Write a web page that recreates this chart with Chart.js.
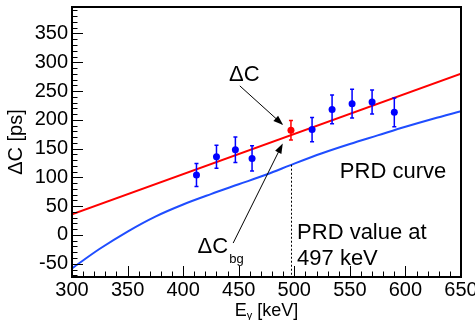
<!DOCTYPE html>
<html>
<head>
<meta charset="utf-8">
<script src="https://cdn.jsdelivr.net/npm/chart.js"></script>
<style>
  html, body { margin: 0; padding: 0; background: #fff; }
</style>
</head>
<body>
<canvas id="chart" width="475" height="320"></canvas>
<script>
// Measured points (blue)
const energies = [412, 430, 447, 462, 516, 534, 552, 570, 590];
const deltaC = [104, 136, 148, 133, 183, 218, 228, 231, 213];
const deltaCErr = [20, 20, 22, 22, 21, 25, 25, 21, 25];

// Point at 497 keV (red)
const redEnergy = [497];
const redDeltaC = [182];
const redErr = [17];

// Linear fit (red line)
const fitEnergy = [300, 650];
const fitDeltaC = [36, 280];

// PRD curve (blue line)
const prdEnergy = [300, 325, 350, 375, 400, 425, 450, 475, 500, 525, 550, 575, 600, 625, 650];
const prdDeltaC = [-58, -24, 6, 32, 53, 71, 88, 105, 124, 142, 158, 173, 188, 202, 215];
const prdAt = { x: 497, y: 122 };

// Axis ticks
const xTicks = [300, 350, 400, 450, 500, 550, 600, 650];
const yTicks = [-50, 0, 50, 100, 150, 200, 250, 300, 350];

const FONT = "'Liberation Sans', Arial, Helvetica, sans-serif";
const BLUE_PTS = '#0000ff';
const RED = '#ff0000';
const PRD_BLUE = '#1f4dff';

Chart.defaults.font.family = FONT;
Chart.defaults.color = '#000';

function pts(xs, ys) {
    return xs.map((x, i) => ({ x: x, y: ys[i] }));
}

function arrow(ctx, x1, y1, x2, y2) {
    const a = Math.atan2(y2 - y1, x2 - x1);
    const len = 10, half = 3.5;
    ctx.beginPath();
    ctx.moveTo(x1, y1);
    ctx.lineTo(x2 - Math.cos(a) * len * 0.8, y2 - Math.sin(a) * len * 0.8);
    ctx.stroke();
    ctx.beginPath();
    ctx.moveTo(x2, y2);
    ctx.lineTo(x2 - len * Math.cos(a) + half * Math.sin(a), y2 - len * Math.sin(a) - half * Math.cos(a));
    ctx.lineTo(x2 - len * Math.cos(a) - half * Math.sin(a), y2 - len * Math.sin(a) + half * Math.cos(a));
    ctx.closePath();
    ctx.fill();
}

const decorations = {
    id: 'decorations',
    afterDatasetsDraw(chart) {
        const ctx = chart.ctx;
        const xs = chart.scales.x, ys = chart.scales.y;
        const bars = (E, C, err, color) => {
            ctx.save();
            ctx.strokeStyle = color;
            ctx.lineWidth = 1.5;
            E.forEach((e, i) => {
                const px = xs.getPixelForValue(e);
                const t = ys.getPixelForValue(C[i] + err[i]);
                const b = ys.getPixelForValue(C[i] - err[i]);
                ctx.beginPath();
                ctx.moveTo(px, t); ctx.lineTo(px, b);
                ctx.moveTo(px - 2, t); ctx.lineTo(px + 2, t);
                ctx.moveTo(px - 2, b); ctx.lineTo(px + 2, b);
                ctx.stroke();
            });
            ctx.restore();
        };
        bars(energies, deltaC, deltaCErr, BLUE_PTS);
        bars(redEnergy, redDeltaC, redErr, RED);
    },
    afterDraw(chart) {
        const ctx = chart.ctx;
        const xs = chart.scales.x, ys = chart.scales.y;
        const a = chart.chartArea;
        const X = v => xs.getPixelForValue(v);
        const Y = v => ys.getPixelForValue(v);

        ctx.save();
        // dotted line at 497 keV
        ctx.strokeStyle = '#000';
        ctx.lineWidth = 1;
        ctx.setLineDash([2, 2]);
        ctx.beginPath();
        ctx.moveTo(Math.round(X(prdAt.x)) + 0.5, Y(prdAt.y));
        ctx.lineTo(Math.round(X(prdAt.x)) + 0.5, a.bottom);
        ctx.stroke();
        ctx.setLineDash([]);

        // ticks (inward)
        ctx.lineWidth = 1;
        for (let v = 300; v <= 650; v += 10) {
            const px = Math.round(X(v)) + 0.5;
            const l = (v % 50 === 0) ? 11 : 5.5;
            ctx.beginPath();
            ctx.moveTo(px, a.bottom);
            ctx.lineTo(px, a.bottom - l);
            ctx.stroke();
        }
        for (let v = -70; v <= 390; v += 10) {
            const py = Math.round(Y(v)) + 0.5;
            const l = (v % 50 === 0) ? 11 : 5.5;
            ctx.beginPath();
            ctx.moveTo(a.left, py);
            ctx.lineTo(a.left + l, py);
            ctx.stroke();
        }

        // frame
        ctx.lineWidth = 2;
        ctx.strokeRect(a.left, a.top, a.right - a.left, a.bottom - a.top);

        // arrows
        ctx.fillStyle = '#000';
        ctx.lineWidth = 1;
        arrow(ctx, X(451), Y(259), X(490), Y(191));
        arrow(ctx, X(445), Y(-14), X(489.6), Y(159));

        // labels in the plot
        ctx.textBaseline = 'alphabetic';
        ctx.textAlign = 'center';
        ctx.font = '22px ' + FONT;
        ctx.fillText('\u0394C', X(455), Y(267));

        ctx.textAlign = 'left';
        ctx.fillText('\u0394C', X(413), Y(-31));
        const w = ctx.measureText('\u0394C').width;
        ctx.font = '13px ' + FONT;
        ctx.fillText('bg', X(413) + w + 1, Y(-31) + 10);

        ctx.font = '22px ' + FONT;
        ctx.fillText('PRD curve', X(541), Y(99));
        ctx.fillText('PRD value at', X(502.5), Y(-7));
        ctx.fillText('497 keV', X(502.5), Y(-52));

        // axis titles
        ctx.font = '20px ' + FONT;
        ctx.save();
        ctx.translate(22, (a.top + a.bottom) / 2);
        ctx.rotate(-Math.PI / 2);
        ctx.textAlign = 'center';
        ctx.fillText('\u0394C [ps]', 0, 0);
        ctx.restore();

        ctx.font = '18px ' + FONT;
        const wE = ctx.measureText('E').width;
        const wRest = ctx.measureText(' [keV]').width;
        ctx.font = '11px ' + FONT;
        const wG = ctx.measureText('\u03b3').width;
        const total = wE + wG + wRest;
        let x0 = (a.left + a.right) / 2 - total / 2;
        const base = 316;
        ctx.textAlign = 'left';
        ctx.font = '18px ' + FONT;
        ctx.fillText('E', x0, base);
        ctx.font = '11px ' + FONT;
        ctx.fillText('\u03b3', x0 + wE, base + 3);
        ctx.font = '18px ' + FONT;
        ctx.fillText(' [keV]', x0 + wE + wG, base);
        ctx.restore();
    }
};

new Chart(document.getElementById('chart'), {
    type: 'scatter',
    data: {
        datasets: [
            {
                data: pts(energies, deltaC),
                backgroundColor: BLUE_PTS,
                borderColor: BLUE_PTS,
                pointRadius: 3.5,
                pointBorderWidth: 0,
                order: 0
            },
            {
                data: pts(redEnergy, redDeltaC),
                backgroundColor: RED,
                borderColor: RED,
                pointRadius: 3.5,
                pointBorderWidth: 0,
                order: 0
            },
            {
                data: pts(fitEnergy, fitDeltaC),
                showLine: true,
                borderColor: RED,
                borderWidth: 2,
                pointRadius: 0,
                order: 2
            },
            {
                data: pts(prdEnergy, prdDeltaC),
                showLine: true,
                borderColor: PRD_BLUE,
                borderWidth: 2,
                pointRadius: 0,
                cubicInterpolationMode: 'monotone',
                order: 2
            }
        ]
    },
    options: {
        responsive: false,
        animation: false,
        devicePixelRatio: 1,
        layout: { padding: { left: 0, right: 14, top: 7, bottom: 0 } },
        plugins: {
            legend: { display: false },
            tooltip: { enabled: false }
        },
        scales: {
            x: {
                type: 'linear',
                min: 300,
                max: 650,
                grid: { display: false, drawTicks: false },
                border: { display: false },
                ticks: { font: { size: 20 }, padding: 1, color: '#000', maxRotation: 0 },
                afterBuildTicks: s => { s.ticks = xTicks.map(v => ({ value: v })); },
                afterFit: s => { s.height = 43; s.paddingLeft = 0; s.paddingRight = 0; }
            },
            y: {
                type: 'linear',
                min: -73,
                max: 396,
                grid: { display: false, drawTicks: false },
                border: { display: false },
                ticks: { font: { size: 20 }, padding: 4, color: '#000' },
                afterBuildTicks: s => { s.ticks = yTicks.map(v => ({ value: v })); },
                afterFit: s => { s.width = 72; s.paddingTop = 0; s.paddingBottom = 0; }
            }
        }
    },
    plugins: [decorations]
});
</script>
</body>
</html>
